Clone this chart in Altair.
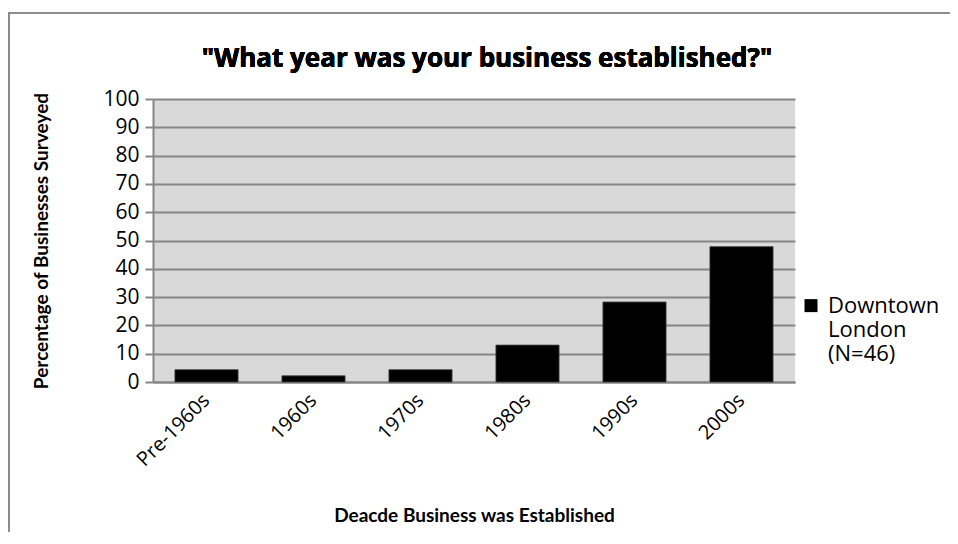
import altair as alt
import pandas as pd

decades = ["Pre-1960s", "1960s", "1970s", "1980s", "1990s", "2000s"]
percentages = [4.35, 2.17, 4.35, 13.04, 28.26, 47.83]
series_name = "Downtown London (N=46)"
title_text = '"What year was your business established?"'

df = pd.DataFrame({"decade": decades, "pct": percentages, "series": [series_name] * len(decades)})

FONT = "Open Sans"
TFONT = "Lato"
W, H = 642, 283

bars = alt.Chart(df).mark_bar(stroke="#404040", strokeWidth=0.8).encode(
    x=alt.X(
        "decade:N",
        sort=decades,
        scale=alt.Scale(paddingInner=0.41, paddingOuter=0.205),
        axis=alt.Axis(
            title="Deacde Business was Established",
            labelAngle=-45,
            labelAlign="right",
            labelBaseline="middle",
            labelPadding=15,
            labelFontSize=20,
            labelFont=FONT,
            labelColor="#000000",
            ticks=False,
            domainColor="#868686",
            domainWidth=2,
            titleFont=TFONT,
            titleFontSize=19,
            titleFontWeight="bold",
            titleColor="#000000",
            titleX=W / 2,
            titleY=133,
            titleBaseline="middle",
            titleAlign="center",
        ),
    ),
    y=alt.Y(
        "pct:Q",
        scale=alt.Scale(domain=[0, 100], nice=False),
        axis=alt.Axis(
            title="Percentage of Businesses Surveyed",
            values=list(range(0, 101, 10)),
            labelFontSize=21,
            labelFont=FONT,
            labelColor="#000000",
            labelPadding=6,
            tickSize=8,
            tickColor="#868686",
            tickWidth=2,
            domainColor="#868686",
            domainWidth=2,
            gridColor="#868686",
            gridWidth=2,
            titleFont=TFONT,
            titleFontSize=19,
            titleFontWeight="bold",
            titleColor="#000000",
            titleX=-112,
            titleY=H / 2,
            titleAngle=-90,
            titleBaseline="middle",
            titleAlign="center",
        ),
    ),
    color=alt.Color(
        "series:N",
        scale=alt.Scale(range=["#000000"]),
        legend=alt.Legend(
            title=None,
            orient="none",
            legendX=647,
            legendY=186,
            symbolType="M-1,0.48H1V2.48H-1Z",
            symbolSize=169,
            symbolStrokeWidth=0,
            symbolOpacity=1,
            labelFont=FONT,
            labelFontSize=22,
            labelColor="#000000",
            labelBaseline="top",
            labelOffset=6,
            labelLimit=300,
            padding=0,
            labelExpr="['Downtown', 'London', '(N=46)']",
        ),
    ),
)

border_top = alt.Chart(df).mark_rect(fill="#8c8c8c", stroke=None).encode(
    x=alt.value(-145), x2=alt.value(900), y=alt.value(-87), y2=alt.value(-85)
)
border_left = alt.Chart(df).mark_rect(fill="#8c8c8c", stroke=None).encode(
    x=alt.value(-145), x2=alt.value(-143), y=alt.value(-87), y2=alt.value(600)
)

title = alt.Chart(df).mark_text(
    font=FONT, fontSize=26, fontWeight="bold", color="#000000",
    align="center", baseline="alphabetic",
).encode(x=alt.value(334), y=alt.value(-32), text=alt.value(title_text))

chart = alt.layer(border_top, border_left, title, bars).properties(
    width=W,
    height=H,
    autosize=alt.AutoSizeParams(type="none"),
    padding={"left": 145, "top": 91, "right": 155, "bottom": 150},
    background="#ffffff",
).configure_view(fill="#d9d9d9", stroke=None)

chart.save("out.html", embed_options={"renderer": "svg", "actions": False})
